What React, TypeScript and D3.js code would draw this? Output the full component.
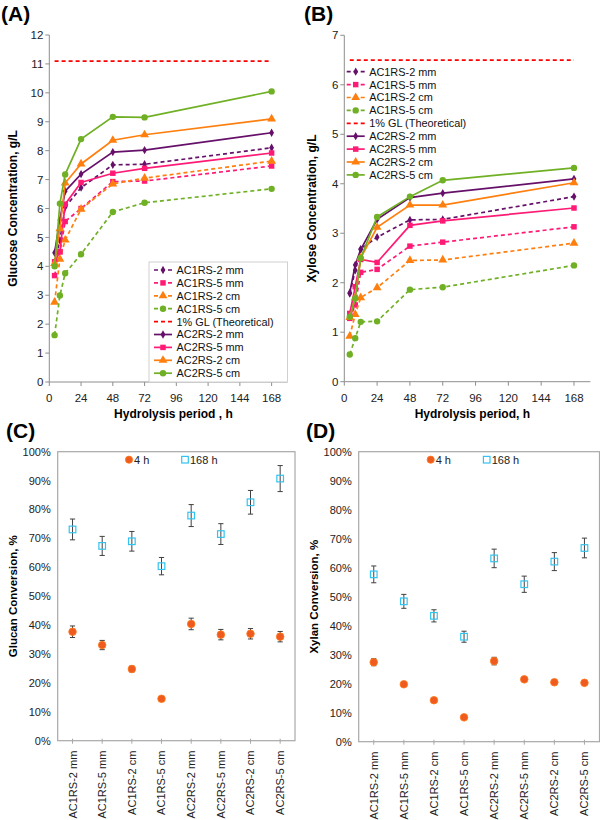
import React from "react";
import * as d3 from "d3";

// ---------- DATA ----------
const hours = [4, 8, 12, 24, 48, 72, 168];
const hourTicks = [0, 24, 48, 72, 96, 120, 144, 168];
const glucoseTicks = [0, 1, 2, 3, 4, 5, 6, 7, 8, 9, 10, 11, 12];
const xyloseTicks = [0, 1, 2, 3, 4, 5, 6, 7];
const pctTicks = [0, 10, 20, 30, 40, 50, 60, 70, 80, 90, 100];

const seriesNames = [
  "AC1RS-2 mm",
  "AC1RS-5 mm",
  "AC1RS-2 cm",
  "AC1RS-5 cm",
  "1% GL (Theoretical)",
  "AC2RS-2 mm",
  "AC2RS-5 mm",
  "AC2RS-2 cm",
  "AC2RS-5 cm",
];

// Glucose concentration, g/L (panel A)
const gluAC1RS2mm = [4.15, 4.9, 6.05, 6.72, 7.51, 7.53, 8.1];
const gluAC1RS5mm = [3.68, 4.51, 5.55, 6.0, 6.93, 6.95, 7.47];
const gluAC1RS2cm = [2.76, 4.25, 4.91, 5.98, 6.85, 7.05, 7.64];
const gluAC1RS5cm = [1.62, 2.99, 3.76, 4.42, 5.88, 6.2, 6.68];
const gluGL = [11.1, 11.1, 11.1, 11.1, 11.1, 11.1, 11.1];
const gluAC2RS2mm = [4.47, 5.6, 6.6, 7.19, 7.95, 8.02, 8.62];
const gluAC2RS5mm = [4.16, 4.5, 6.15, 6.9, 7.22, 7.39, 7.92];
const gluAC2RS2cm = [4.1, 5.3, 6.88, 7.54, 8.36, 8.55, 9.1];
const gluAC2RS5cm = [4.0, 6.17, 7.18, 8.4, 9.17, 9.15, 10.05];

// Xylose concentration, g/L (panel B)
const xylAC1RS2mm = [1.78, 2.25, 2.68, 2.92, 3.27, 3.28, 3.74];
const xylAC1RS5mm = [1.28, 1.55, 2.21, 2.27, 2.74, 2.82, 3.13];
const xylAC1RS2cm = [0.92, 1.36, 1.7, 1.9, 2.45, 2.46, 2.8];
const xylAC1RS5cm = [0.55, 0.88, 1.21, 1.22, 1.86, 1.91, 2.35];
const xylGL = [6.5, 6.5, 6.5, 6.5, 6.5, 6.5, 6.5];
const xylAC2RS2mm = [1.8, 2.36, 2.67, 3.28, 3.72, 3.81, 4.1];
const xylAC2RS5mm = [1.38, 1.92, 2.47, 2.41, 3.16, 3.25, 3.51];
const xylAC2RS2cm = [1.3, 1.7, 2.5, 3.12, 3.57, 3.57, 4.02];
const xylAC2RS5cm = [1.31, 1.68, 2.5, 3.33, 3.74, 4.07, 4.32];

// Conversions (panels C, D)
const samples = [
  "AC1RS-2 mm",
  "AC1RS-5 mm",
  "AC1RS-2 cm",
  "AC1RS-5 cm",
  "AC2RS-2 mm",
  "AC2RS-5 mm",
  "AC2RS-2 cm",
  "AC2RS-5 cm",
];
const glucan4h = [37.7, 33.1, 24.8, 14.5, 40.4, 36.7, 37.0, 36.0];
const glucan4hErr = [2.0, 1.6, 1.0, 0.5, 2.0, 1.8, 1.8, 1.8];
const glucan168h = [73.1, 67.4, 69.0, 60.4, 77.9, 71.5, 82.5, 90.7];
const glucan168hErr = [3.6, 3.3, 3.4, 3.0, 3.8, 3.6, 4.1, 4.5];
const xylan4h = [27.4, 19.8, 14.3, 8.4, 27.8, 21.5, 20.5, 20.3];
const xylan4hErr = [1.2, 0.4, 0.4, 0.3, 1.3, 0.4, 0.4, 0.3];
const xylan168h = [57.7, 48.4, 43.4, 36.2, 63.2, 54.3, 62.1, 66.8];
const xylan168hErr = [2.9, 2.4, 2.1, 1.9, 3.2, 2.8, 3.1, 3.4];

// ---------- STYLE ----------
const FONT = "'Liberation Sans', Arial, Helvetica, sans-serif";
const PURPLE = "#66106a";
const PINK = "#ff1a75";
const ORANGE = "#ff7f0e";
const GREEN = "#6fb024";
const RED = "#ff0000";
const AXIS = "#8e8e8e";

type Style = { color: string; dashed: boolean; marker: string | null };
const seriesStyles: Style[] = [
  { color: PURPLE, dashed: true, marker: "diamond" },
  { color: PINK, dashed: true, marker: "square" },
  { color: ORANGE, dashed: true, marker: "triangle" },
  { color: GREEN, dashed: true, marker: "circle" },
  { color: RED, dashed: true, marker: null },
  { color: PURPLE, dashed: false, marker: "diamond" },
  { color: PINK, dashed: false, marker: "square" },
  { color: ORANGE, dashed: false, marker: "triangle" },
  { color: GREEN, dashed: false, marker: "circle" },
];

function symbolPath(kind: string) {
  const t =
    kind === "diamond"
      ? d3.symbolDiamond
      : kind === "square"
      ? d3.symbolSquare
      : kind === "triangle"
      ? d3.symbolTriangle
      : d3.symbolCircle;
  const size =
    kind === "diamond" ? 20 : kind === "square" ? 30 : kind === "triangle" ? 34 : 32;
  return d3.symbol().type(t).size(size)() as string;
}

type LinePanelProps = {
  label: string;
  labelX: number;
  left: number;
  right: number;
  top: number;
  bottom: number;
  yMax: number;
  yTicks: number[];
  values: number[][];
  yTitle: string;
  yTitleX: number;
  xTitle: string;
  legendX: number;
  legendY: number;
  legendBox: boolean;
};

function LinePanel(p: LinePanelProps) {
  const x = d3.scaleLinear().domain([0, 180]).range([p.left, p.right]);
  const y = d3.scaleLinear().domain([0, p.yMax]).range([p.bottom, p.top]);
  const line = d3
    .line<number>()
    .x((_, i) => x(hours[i]))
    .y((v) => y(v));
  const rowH = 12.9;
  return (
    <g>
      <text x={p.labelX} y={21} fontFamily={FONT} fontWeight="bold" fontSize={21}>
        {p.label}
      </text>
      {/* axes */}
      <line x1={p.left} y1={p.top} x2={p.left} y2={p.bottom} stroke={AXIS} strokeWidth={1} />
      <line x1={p.left} y1={p.bottom} x2={p.right} y2={p.bottom} stroke={AXIS} strokeWidth={1} />
      {p.yTicks.map((t) => (
        <g key={"y" + t}>
          <line x1={p.left - 4} x2={p.left} y1={y(t)} y2={y(t)} stroke={AXIS} />
          <text
            x={p.left - 6}
            y={y(t)}
            dy="0.36em"
            textAnchor="end"
            fontFamily={FONT}
            fontSize={11.5}
            fill="#222"
          >
            {t}
          </text>
        </g>
      ))}
      {hourTicks.map((t) => (
        <g key={"x" + t}>
          <line x1={x(t)} x2={x(t)} y1={p.bottom} y2={p.bottom + 4} stroke={AXIS} />
          <text
            x={x(t)}
            y={p.bottom + 20}
            textAnchor="middle"
            fontFamily={FONT}
            fontSize={11.5}
            fill="#222"
          >
            {t}
          </text>
        </g>
      ))}
      <text
        transform={`translate(${p.yTitleX},${(p.top + p.bottom) / 2}) rotate(-90)`}
        textAnchor="middle"
        fontFamily={FONT}
        fontWeight="bold"
        fontSize={12}
      >
        {p.yTitle}
      </text>
      <text
        x={(p.left + p.right) / 2 + 5}
        y={418}
        textAnchor="middle"
        fontFamily={FONT}
        fontWeight="bold"
        fontSize={12}
      >
        {p.xTitle}
      </text>
      {/* series */}
      {p.values.map((vals, si) => {
        const st = seriesStyles[si];
        return (
          <g key={"s" + si}>
            <path
              d={line(vals) as string}
              fill="none"
              stroke={st.color}
              strokeWidth={1.7}
              strokeDasharray={st.dashed ? "4,3" : undefined}
            />
            {st.marker &&
              vals.map((v, i) => (
                <path
                  key={i}
                  d={symbolPath(st.marker as string)}
                  transform={`translate(${x(hours[i])},${y(v)})`}
                  fill={st.color}
                />
              ))}
          </g>
        );
      })}
      {/* legend */}
      {p.legendBox && (
        <rect
          x={p.legendX - 5}
          y={p.legendY - 8}
          width={p.right - p.legendX + 5}
          height={p.bottom - p.legendY + 8}
          fill="white"
          stroke="#d0d0d0"
          strokeWidth={1}
        />
      )}
      {seriesNames.map((name, i) => {
        const st = seriesStyles[i];
        const ly = p.legendY + i * rowH;
        return (
          <g key={"l" + i}>
            <line
              x1={p.legendX}
              x2={p.legendX + 18}
              y1={ly}
              y2={ly}
              stroke={st.color}
              strokeWidth={1.7}
              strokeDasharray={st.dashed ? "4,3" : undefined}
            />
            {st.marker && (
              <path
                d={symbolPath(st.marker)}
                transform={`translate(${p.legendX + 9},${ly})`}
                fill={st.color}
              />
            )}
            <text
              x={p.legendX + 22.5}
              y={ly}
              dy="0.36em"
              fontFamily={FONT}
              fontSize={10.9}
              fill="#111"
            >
              {name}
            </text>
          </g>
        );
      })}
    </g>
  );
}

type DotPanelProps = {
  label: string;
  labelX: number;
  left: number;
  right: number;
  top: number;
  bottom: number;
  v4: number[];
  e4: number[];
  v168: number[];
  e168: number[];
  yTitle: string;
  yTitleX: number;
  legendX: number;
};

function DotPanel(p: DotPanelProps) {
  const x = d3.scaleBand<string>().domain(samples).range([p.left, p.right]);
  const cx = (s: string) => (x(s) as number) + x.bandwidth() / 2;
  const y = d3.scaleLinear().domain([0, 100]).range([p.bottom, p.top]);
  const fmt = (t: number) => `${t}%`;
  const capW = 2.6;
  const ly = p.top + 8;
  return (
    <g>
      <text x={p.labelX} y={438} fontFamily={FONT} fontWeight="bold" fontSize={21}>
        {p.label}
      </text>
      <rect
        x={p.left}
        y={p.top}
        width={p.right - p.left}
        height={p.bottom - p.top}
        fill="none"
        stroke="#a8a8a8"
        strokeWidth={1.2}
      />
      {pctTicks.map((t) => (
        <text
          key={t}
          x={p.left - 7}
          y={y(t)}
          dy="0.36em"
          textAnchor="end"
          fontFamily={FONT}
          fontSize={11}
          fill="#222"
        >
          {fmt(t)}
        </text>
      ))}
      {samples.map((s) => (
        <g key={s}>
          <line x1={cx(s)} x2={cx(s)} y1={p.bottom - 2} y2={p.bottom + 3} stroke="#a8a8a8" />
          <text
            transform={`translate(${cx(s)},${p.bottom + 10}) rotate(-90)`}
            dy="0.36em"
            textAnchor="end"
            fontFamily={FONT}
            fontSize={11}
            fill="#222"
          >
            {s}
          </text>
        </g>
      ))}
      <text
        transform={`translate(${p.yTitleX},${(p.top + p.bottom) / 2}) rotate(-90)`}
        textAnchor="middle"
        fontFamily={FONT}
        fontWeight="bold"
        fontSize={11.5}
      >
        {p.yTitle}
      </text>
      {/* error bars */}
      {samples.map((s, i) => (
        <g key={"e" + s} stroke="#404040" strokeWidth={1}>
          {[
            [p.v4[i], p.e4[i]],
            [p.v168[i], p.e168[i]],
          ].map(([v, e], k) => (
            <g key={k}>
              <line x1={cx(s)} x2={cx(s)} y1={y(v - e)} y2={y(v + e)} />
              <line x1={cx(s) - capW} x2={cx(s) + capW} y1={y(v - e)} y2={y(v - e)} />
              <line x1={cx(s) - capW} x2={cx(s) + capW} y1={y(v + e)} y2={y(v + e)} />
            </g>
          ))}
        </g>
      ))}
      {samples.map((s, i) => (
        <g key={"m" + s}>
          <rect
            x={cx(s) - 3.3}
            y={y(p.v168[i]) - 3.3}
            width={6.6}
            height={6.6}
            fill="none"
            stroke="#33c3f0"
            strokeWidth={1.2}
          />
          <circle cx={cx(s)} cy={y(p.v4[i])} r={3.8} fill="#ef5a1e" stroke="#ff7a1a" strokeWidth={0.8} />
        </g>
      ))}
      {/* legend */}
      <circle cx={p.legendX} cy={ly} r={3.6} fill="#ef5a1e" stroke="#ff7a1a" strokeWidth={0.8} />
      <text x={p.legendX + 5} y={ly} dy="0.36em" fontFamily={FONT} fontSize={11} fill="#222">
        4 h
      </text>
      <rect
        x={p.legendX + 56 - 3.3}
        y={ly - 3.3}
        width={6.6}
        height={6.6}
        fill="none"
        stroke="#33c3f0"
        strokeWidth={1.2}
      />
      <text x={p.legendX + 61} y={ly} dy="0.36em" fontFamily={FONT} fontSize={11} fill="#222">
        168 h
      </text>
    </g>
  );
}

export default function App() {
  const glucose = [
    gluAC1RS2mm,
    gluAC1RS5mm,
    gluAC1RS2cm,
    gluAC1RS5cm,
    gluGL,
    gluAC2RS2mm,
    gluAC2RS5mm,
    gluAC2RS2cm,
    gluAC2RS5cm,
  ];
  const xylose = [
    xylAC1RS2mm,
    xylAC1RS5mm,
    xylAC1RS2cm,
    xylAC1RS5cm,
    xylGL,
    xylAC2RS2mm,
    xylAC2RS5mm,
    xylAC2RS2cm,
    xylAC2RS5cm,
  ];
  return (
    <svg
      width={600}
      height={820}
      viewBox="0 0 600 820"
      style={{ position: "absolute", left: 0, top: 0, background: "white" }}
    >
      <rect x={0} y={0} width={600} height={820} fill="white" />
      <LinePanel
        label="(A)"
        labelX={1}
        left={49.3}
        right={287.5}
        top={35}
        bottom={382}
        yMax={12}
        yTicks={glucoseTicks}
        values={glucose}
        yTitle="Glucose Concentration, g/L"
        yTitleX={17}
        xTitle="Hydrolysis period , h"
        legendX={154}
        legendY={270}
        legendBox={true}
      />
      <LinePanel
        label="(B)"
        labelX={304}
        left={344.3}
        right={590.4}
        top={35.3}
        bottom={381.7}
        yMax={7}
        yTicks={xyloseTicks}
        values={xylose}
        yTitle="Xylose Concentration, g/L"
        yTitleX={316}
        xTitle="Hydrolysis period, h"
        legendX={346.7}
        legendY={71.7}
        legendBox={false}
      />
      <DotPanel
        label="(C)"
        labelX={6}
        left={57.7}
        right={295}
        top={451.7}
        bottom={740.7}
        v4={glucan4h}
        e4={glucan4hErr}
        v168={glucan168h}
        e168={glucan168hErr}
        yTitle="Glucan Conversion, %"
        yTitleX={17}
        legendX={129}
      />
      <DotPanel
        label="(D)"
        labelX={306}
        left={358.7}
        right={599.5}
        top={451.7}
        bottom={741.7}
        v4={xylan4h}
        e4={xylan4hErr}
        v168={xylan168h}
        e168={xylan168hErr}
        yTitle="Xylan Conversion, %"
        yTitleX={318}
        legendX={430.7}
      />
    </svg>
  );
}
